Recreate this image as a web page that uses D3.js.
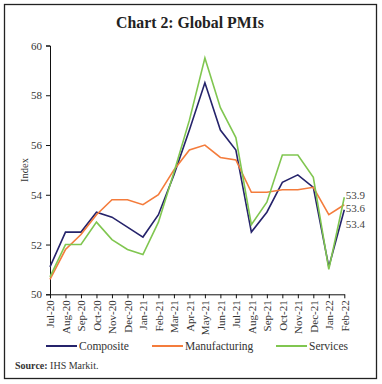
<!DOCTYPE html>
<html>
<head>
<meta charset="utf-8">
<script src="https://cdn.jsdelivr.net/npm/d3@7"></script>
<style>
  html, body { margin: 0; padding: 0; background: #fff; }
  svg { display: block; font-family: "Liberation Serif", "DejaVu Serif", serif; }
</style>
</head>
<body>
<svg id="chart" width="382" height="384"></svg>
<script>
const months = ["Jul-20","Aug-20","Sep-20","Oct-20","Nov-20","Dec-20","Jan-21","Feb-21","Mar-21","Apr-21","May-21","Jun-21","Jul-21","Aug-21","Sep-21","Oct-21","Nov-21","Dec-21","Jan-22","Feb-22"];
const composite =     [51.1, 52.5, 52.5, 53.3, 53.1, 52.7, 52.3, 53.2, 54.8, 56.6, 58.5, 56.6, 55.8, 52.5, 53.3, 54.5, 54.8, 54.3, 51.1, 53.4];
const manufacturing = [50.6, 51.8, 52.4, 53.2, 53.8, 53.8, 53.6, 54.0, 55.0, 55.8, 56.0, 55.5, 55.4, 54.1, 54.1, 54.2, 54.2, 54.3, 53.2, 53.6];
const services =      [50.7, 52.0, 52.0, 52.9, 52.2, 51.8, 51.6, 52.9, 54.9, 57.0, 59.5, 57.5, 56.3, 52.8, 53.7, 55.6, 55.6, 54.7, 51.0, 53.9];
const yTicks = [50, 52, 54, 56, 58, 60];
const seriesNames = ["Composite", "Manufacturing", "Services"];
const seriesColors = ["#25236b", "#f47c3c", "#80c650"];

const svg = d3.select("#chart");

// frame
svg.append("rect").attr("x", 4.5).attr("y", 4.5).attr("width", 372).attr("height", 374)
  .attr("fill", "none").attr("stroke", "#222").attr("stroke-width", 1.3);

// title
svg.append("text").attr("x", 190).attr("y", 28).attr("text-anchor", "middle")
  .attr("font-size", 15.8).attr("font-weight", "bold").attr("fill", "#222")
  .text("Chart 2: Global PMIs");

const x = d3.scalePoint().domain(months).range([50, 344.3]).padding(0);
const y = d3.scaleLinear().domain([50, 60]).range([294.3, 45.5]);

// y axis
const yAxis = svg.append("g").attr("transform", "translate(50,0)")
  .call(d3.axisLeft(y).tickValues(yTicks).tickSize(4).tickPadding(4).tickFormat(d3.format("d")));
yAxis.selectAll("text").attr("font-size", 11).attr("fill", "#333").attr("font-family", "Liberation Serif");
yAxis.selectAll("line, path").attr("stroke", "#111");

// x axis
const xAxis = svg.append("g").attr("transform", "translate(0,294.3)")
  .call(d3.axisBottom(x).tickSize(4).tickSizeOuter(0));
xAxis.select("path").attr("stroke", "#111");
xAxis.selectAll("line").attr("stroke", "#111");
xAxis.selectAll("text")
  .attr("font-size", 11).attr("fill", "#333").attr("font-family", "Liberation Serif")
  .attr("text-anchor", "end")
  .attr("transform", "rotate(-90)")
  .attr("x", -6).attr("y", 0).attr("dy", "0.35em");

// y axis title
svg.append("text").attr("transform", "translate(28,170) rotate(-90)")
  .attr("text-anchor", "middle").attr("font-size", 10.5).attr("fill", "#333")
  .text("Index");

// lines
const allSeries = [composite, manufacturing, services];
const line = d3.line().x((d, i) => x(months[i])).y(d => y(d));
allSeries.forEach((s, k) => {
  svg.append("path").datum(s).attr("d", line)
    .attr("fill", "none").attr("stroke", seriesColors[k]).attr("stroke-width", 1.6)
    .attr("stroke-linejoin", "miter");
});

// end labels
const last = months.length - 1;
const labelOffsets = [14, 3.5, -2.3];
allSeries.forEach((s, k) => {
  svg.append("text").attr("x", x(months[last]) + 1.5).attr("y", y(s[last]) + labelOffsets[k])
    .attr("dy", "0.35em").attr("font-size", 11).attr("fill", "#444")
    .text(s[last].toFixed(1));
});

// legend
const legendX = [46, 152, 276];
seriesNames.forEach((n, k) => {
  const g = svg.append("g").attr("transform", `translate(${legendX[k]},346)`);
  g.append("line").attr("x1", 0).attr("x2", 31).attr("y1", 0).attr("y2", 0)
    .attr("stroke", seriesColors[k]).attr("stroke-width", 2);
  g.append("text").attr("x", 33).attr("y", 0).attr("dy", "0.35em")
    .attr("font-size", 11.5).attr("fill", "#333").text(n);
});

// source
const src = svg.append("text").attr("x", 15).attr("y", 369).attr("font-size", 10).attr("fill", "#333");
src.append("tspan").attr("font-weight", "bold").text("Source: ");
src.append("tspan").text("IHS Markit.");
</script>
</body>
</html>
